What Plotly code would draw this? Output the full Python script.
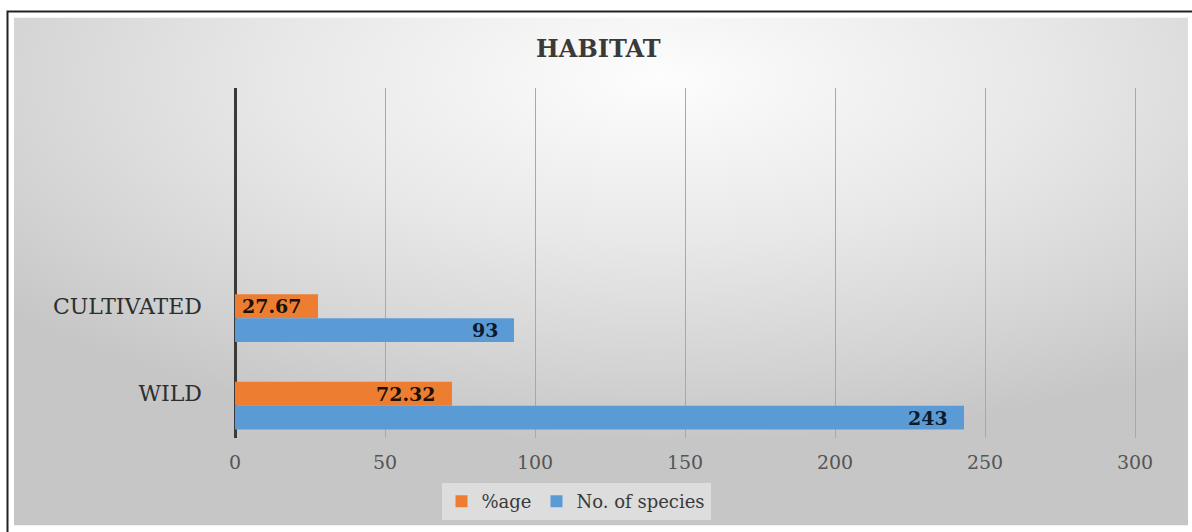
import plotly.graph_objects as go
from urllib.parse import quote

categories = ["WILD", "CULTIVATED"]
pct_age = [72.32, 27.67]
no_species = [243, 93]
x_ticks = [0, 50, 100, 150, 200, 250, 300]

W, H = 1192, 532
X_MAX = 301
L, T, B = 235, 88, 440
R = L + 900 * X_MAX / 300  # 300 sits at px 1135


def px_x(p):
    return (p - L) / (R - L)


def px_y(p):
    return (B - p) / (B - T)


svg = ('<svg xmlns="http://www.w3.org/2000/svg" width="1174" height="510" preserveAspectRatio="none">'
       '<defs><radialGradient id="g" cx="0.55" cy="0.12" r="0.72">'
       '<stop offset="0" stop-color="#fdfdfd"/><stop offset="0.45" stop-color="#e8e8e8"/>'
       '<stop offset="0.8" stop-color="#d3d3d3"/><stop offset="1" stop-color="#c6c6c6"/>'
       '</radialGradient></defs>'
       '<rect width="1174" height="510" fill="url(#g)"/></svg>')
bg_src = "data:image/svg+xml;charset=utf-8," + quote(svg)

serif = "DejaVu Serif, Liberation Serif, serif"
BW = 0.273  # bar thickness in category units

fig = go.Figure()
fig.add_trace(go.Bar(
    y=categories, x=pct_age, orientation="h", name="%age",
    marker=dict(color="#ED7D31", line=dict(width=0)),
    width=BW, offset=-BW / 2,
))
fig.add_trace(go.Bar(
    y=categories, x=no_species, orientation="h", name="No. of species",
    marker=dict(color="#5B9BD5", line=dict(width=0)),
    width=BW, offset=-1.5 * BW,
))

annotations = []
for cat, v in zip(categories, pct_age):
    annotations.append(dict(x=v, y=cat, xref="x", yref="y", text=f"<b>{v}</b>",
                            showarrow=False, xanchor="right", yanchor="middle", xshift=-14,
                            font=dict(family=serif, size=19, color="#1a1208")))
for cat, v in zip(categories, no_species):
    annotations.append(dict(x=v, y=cat, xref="x", yref="y", text=f"<b>{v}</b>",
                            showarrow=False, xanchor="right", yanchor="middle", xshift=-14,
                            yshift=-24,
                            font=dict(family=serif, size=19, color="#0d1a2e")))

fig.update_layout(
    width=W, height=H,
    margin=dict(l=L, r=W - R, t=T, b=H - B, pad=0),
    paper_bgcolor="white", plot_bgcolor="rgba(0,0,0,0)",
    barmode="overlay",
    title=dict(text="<b>HABITAT</b>", font=dict(family=serif, size=24, color="#3a3a3a"),
               x=0.502, xref="container", xanchor="center",
               y=1 - 49 / H, yref="container", yanchor="middle"),
    xaxis=dict(range=[0, X_MAX], tickvals=x_ticks, showgrid=True, gridcolor="#a8a8a8", gridwidth=1,
               zeroline=True, zerolinecolor="#3a3a3a", zerolinewidth=3, showline=False,
               ticks="", ticklabelstandoff=11,
               tickfont=dict(family=serif, size=19, color="#555555")),
    yaxis=dict(type="category", range=[-0.506, 3.494], showgrid=False, zeroline=False,
               showline=False, ticks="", ticklabelstandoff=32,
               tickfont=dict(family=serif, size=22, color="#2e2e2e")),
    showlegend=True,
    legend=dict(orientation="h", x=px_x(576), xanchor="center", y=px_y(504), yanchor="middle",
                bgcolor="rgba(248,248,248,0.45)", font=dict(family=serif, size=18, color="#3a3a3a"),
                itemwidth=30, traceorder="normal"),
    annotations=annotations,
    images=[dict(source=bg_src, xref="paper", yref="paper", x=px_x(14), y=px_y(17),
                 sizex=px_x(1188) - px_x(14), sizey=px_y(17) - px_y(528),
                 xanchor="left", yanchor="top", sizing="stretch", layer="below")],
    shapes=[dict(type="rect", xref="paper", yref="paper", x0=px_x(7.5), x1=px_x(1200),
                 y0=px_y(11), y1=px_y(545), line=dict(color="#222222", width=2),
                 fillcolor="rgba(0,0,0,0)", layer="above")],
)

fig.write_html("out.html")
